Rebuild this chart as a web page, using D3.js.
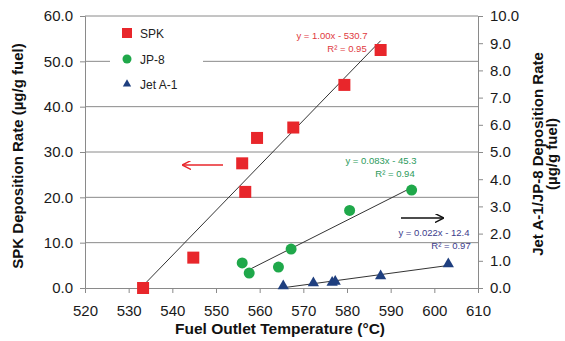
<!DOCTYPE html>
<html><head><meta charset="utf-8">
<script src="https://cdn.jsdelivr.net/npm/d3@7"></script>
<style>body{margin:0;background:#fff}svg{display:block;font-family:"Liberation Sans",Arial,sans-serif}</style>
</head><body><svg id="c" width="565" height="341"></svg>
<script>
const spkX = [533.3, 544.8, 556.0, 556.7, 559.4, 567.7, 579.4, 587.7];
const spkY = [0.0, 6.7, 27.5, 21.2, 33.1, 35.4, 44.8, 52.5];
const jp8X = [556.0, 557.6, 564.3, 567.2, 580.6, 594.8];
const jp8Y = [0.92, 0.55, 0.77, 1.43, 2.85, 3.6];
const jetX = [565.4, 572.3, 576.6, 577.3, 587.7, 603.2];
const jetY = [0.07, 0.18, 0.2, 0.24, 0.44, 0.88];
const xTicks = [520, 530, 540, 550, 560, 570, 580, 590, 600, 610];
const leftTicks = [0, 10, 20, 30, 40, 50, 60];
const rightTicks = [0, 1, 2, 3, 4, 5, 6, 7, 8, 9, 10];
const seriesNames = ["SPK", "JP-8", "Jet A-1"];
const equations = ["y = 1.00x - 530.7", "y = 0.083x - 45.3", "y = 0.022x - 12.4"];
const r2Labels = ["R² = 0.95", "R² = 0.94", "R² = 0.97"];

const svg = d3.select("#c");
const L = 85, R = 478, T = 16, B = 288;
const x = d3.scaleLinear().domain([520, 610]).range([L, R]);
const yL = d3.scaleLinear().domain([0, 60]).range([B, T]);
const yR = d3.scaleLinear().domain([0, 10]).range([B, T]);
const red = "#e8262b", green = "#1fa84a", navy = "#1f3f7f";

// gridlines
svg.append("g").selectAll("line").data(leftTicks.filter(d => d > 0)).join("line")
  .attr("x1", L).attr("x2", R).attr("y1", d => yL(d)).attr("y2", d => yL(d))
  .attr("stroke", "#8a8a8a").attr("stroke-width", 1);

// axes
const fmt = d3.format(".1f");
const gx = svg.append("g").attr("transform", `translate(0,${B})`)
  .call(d3.axisBottom(x).tickValues(xTicks).tickFormat(d3.format("d")).tickSize(5).tickPadding(12));
const gl = svg.append("g").attr("transform", `translate(${L},0)`)
  .call(d3.axisLeft(yL).tickValues(leftTicks).tickFormat(fmt).tickSize(5).tickPadding(7));
const gr = svg.append("g").attr("transform", `translate(${R},0)`)
  .call(d3.axisRight(yR).tickValues(rightTicks).tickFormat(fmt).tickSize(5).tickPadding(7));
[gx, gl, gr].forEach(g => {
  g.select(".domain").attr("stroke", "#8a8a8a");
  g.selectAll(".tick line").attr("stroke", "#8a8a8a");
  g.selectAll("text").attr("font-size", 15).attr("fill", "#1a1a1a")
    .attr("font-family", "'Liberation Sans',Arial,sans-serif");
});
gx.selectAll(".tick line").filter(d => d === 520).remove();

// legend box
const leg = svg.append("g");
leg.append("rect").attr("x", 110).attr("y", 22).attr("width", 93).attr("height", 78).attr("fill", "#fff");
const legY = [33, 59, 84];
leg.append("rect").attr("x", 122).attr("y", legY[0] - 5).attr("width", 10).attr("height", 10).attr("fill", red);
leg.append("circle").attr("cx", 127).attr("cy", legY[1]).attr("r", 4.5).attr("fill", green);
leg.append("path").attr("d", d3.symbol(d3.symbolTriangle, 30)()).attr("transform", `translate(127,${legY[2]})`).attr("fill", navy);
leg.selectAll("text").data(seriesNames).join("text")
  .attr("x", 140).attr("y", (d, i) => legY[i] + 4.5).attr("font-size", 12).attr("fill", "#222").text(d => d);

// trendlines (least squares from data)
function fit(xs, ys) {
  const n = xs.length, mx = d3.mean(xs), my = d3.mean(ys);
  let sxy = 0, sxx = 0;
  for (let i = 0; i < n; i++) { sxy += (xs[i] - mx) * (ys[i] - my); sxx += (xs[i] - mx) ** 2; }
  const m = sxy / sxx; return { m, b: my - m * mx };
}
function trend(xs, ys, ys2, x0) {
  const f = fit(xs, ys);
  const lo = x0 !== undefined ? x0 : d3.min(xs), hi = d3.max(xs);
  svg.append("line").attr("x1", x(lo)).attr("x2", x(hi))
    .attr("y1", ys2(f.m * lo + f.b)).attr("y2", ys2(f.m * hi + f.b))
    .attr("stroke", "#333").attr("stroke-width", 1);
}
trend(spkX, spkY, yL);
trend(jp8X, jp8Y, yR, 557);
trend(jetX, jetY, yR);

// markers
svg.append("g").selectAll("rect").data(d3.zip(spkX, spkY)).join("rect")
  .attr("x", d => x(d[0]) - 6).attr("y", d => yL(d[1]) - 6).attr("width", 12).attr("height", 12).attr("fill", red);
svg.append("g").selectAll("circle").data(d3.zip(jp8X, jp8Y)).join("circle")
  .attr("cx", d => x(d[0])).attr("cy", d => yR(d[1])).attr("r", 5.5).attr("fill", green);
svg.append("g").selectAll("path").data(d3.zip(jetX, jetY)).join("path")
  .attr("d", d3.symbol(d3.symbolTriangle, 55)())
  .attr("transform", d => `translate(${x(d[0])},${yR(d[1])})`).attr("fill", navy);

// equations
const eqPos = [[332, 39, 347, 52, "#e0393d"], [381, 164, 395, 177, "#2c9a5c"], [434, 236, 451, 249, "#3c3c8c"]];
eqPos.forEach((p, i) => {
  svg.append("text").attr("x", p[0]).attr("y", p[1]).attr("text-anchor", "middle").attr("font-size", 9.5).attr("fill", p[4]).text(equations[i]);
  svg.append("text").attr("x", p[2]).attr("y", p[3]).attr("text-anchor", "middle").attr("font-size", 9.5).attr("fill", p[4]).text(r2Labels[i]);
});

// arrows
svg.append("defs").html(`<marker id="arR" viewBox="0 0 10 10" refX="9" refY="5" markerWidth="9" markerHeight="9" orient="auto" markerUnits="userSpaceOnUse"><path d="M0,0 L10,5 L0,10" fill="none" stroke="${red}" stroke-width="1.6"/></marker>
<marker id="arK" viewBox="0 0 10 10" refX="9" refY="5" markerWidth="9" markerHeight="9" orient="auto" markerUnits="userSpaceOnUse"><path d="M0,0 L10,5 L0,10" fill="none" stroke="#111" stroke-width="1.6"/></marker>`);
svg.append("line").attr("x1", 223).attr("y1", 165).attr("x2", 183).attr("y2", 165)
  .attr("stroke", red).attr("stroke-width", 1.5).attr("marker-end", "url(#arR)");
svg.append("line").attr("x1", 401).attr("y1", 218).attr("x2", 443).attr("y2", 218)
  .attr("stroke", "#111").attr("stroke-width", 1.5).attr("marker-end", "url(#arK)");

// axis titles
svg.append("text").attr("x", 280).attr("y", 334).attr("text-anchor", "middle")
  .attr("font-size", 15.5).attr("font-weight", "bold").attr("fill", "#111").text("Fuel Outlet Temperature (°C)");
svg.append("text").attr("transform", "translate(23,156) rotate(-90)").attr("text-anchor", "middle")
  .attr("font-size", 15).attr("font-weight", "bold").attr("fill", "#111").text("SPK Deposition Rate (µg/g fuel)");
svg.append("text").attr("transform", "translate(543,154) rotate(-90)").attr("text-anchor", "middle")
  .attr("font-size", 15).attr("font-weight", "bold").attr("fill", "#111").text("Jet A-1/JP-8 Deposition Rate");
svg.append("text").attr("transform", "translate(557,154) rotate(-90)").attr("text-anchor", "middle")
  .attr("font-size", 15).attr("font-weight", "bold").attr("fill", "#111").text("(µg/g fuel)");
</script></body></html>
